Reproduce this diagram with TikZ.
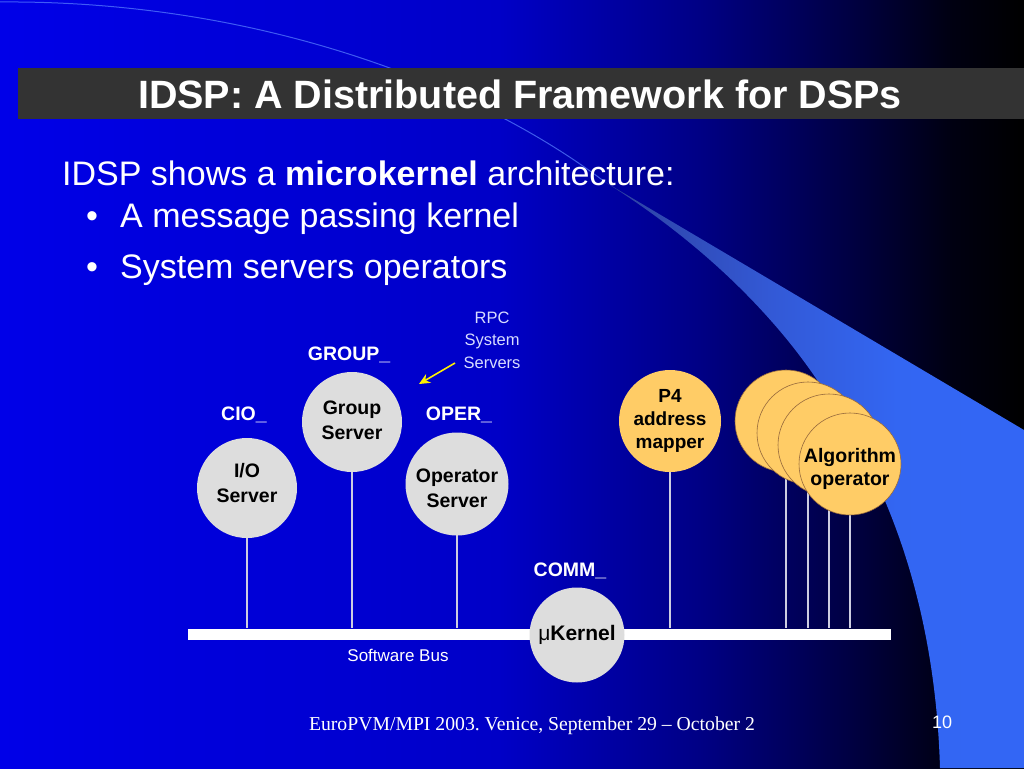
\documentclass[tikz,border=0pt]{standalone}
\usepackage{fontspec}
\setmainfont{Liberation Sans}
\newfontfamily\timesf{Liberation Serif}
\usetikzlibrary{arrows.meta}
\frenchspacing
\definecolor{cgray}{RGB}{221,221,221}
\definecolor{cyel}{RGB}{255,204,102}
\definecolor{cbrown}{RGB}{150,105,60}
\definecolor{cline}{RGB}{205,205,225}
\definecolor{cbar}{RGB}{51,51,51}
\definecolor{crpc}{RGB}{215,220,255}
\definecolor{cfaint}{RGB}{90,130,255}
\pgfdeclarehorizontalshading{slidebg}{100bp}{rgb(0bp)=(0,0,0.91); rgb(25bp)=(0,0,0.91); rgb(49.4bp)=(0,0,0.78); rgb(59.2bp)=(0,0,0.52); rgb(66.5bp)=(0,0,0.26); rgb(71.4bp)=(0,0,0.07); rgb(75bp)=(0,0,0); rgb(100bp)=(0,0,0)}
\pgfdeclarehorizontalshading{wedgesh}{100bp}{rgb(0bp)=(0.18,0.25,0.62); rgb(25bp)=(0.18,0.25,0.62); rgb(45bp)=(0.2,0.35,0.84); rgb(60bp)=(0.2,0.4,0.95); rgb(75bp)=(0.2,0.4,0.96); rgb(100bp)=(0.2,0.4,0.96)}
\begin{document}
\begin{tikzpicture}[x=1pt,y=-1pt,
  lbl/.style={text=white, font=\fontsize{19.5}{23}\selectfont\bfseries, inner sep=0pt, anchor=base},
  graycirc/.style={circle, fill=cgray, minimum size=100pt, inner sep=0pt},
  yelcirc/.style={circle, fill=cyel, minimum size=100pt, inner sep=0pt, align=center, font=\fontsize{19}{23}\selectfont\bfseries},
  stackcirc/.style={circle, fill=cyel, draw=cbrown, line width=0.6pt, minimum size=102pt, inner sep=0pt},
  ctext/.style={align=center, inner sep=0pt, font=\fontsize{19.5}{25}\selectfont\bfseries},
  conn/.style={draw=cline, line width=1.5pt},
  body/.style={text=white, font=\fontsize{34}{40}\selectfont, inner sep=0pt, anchor=base west}
]
\useasboundingbox (0,0) rectangle (1024,768);
% background
\shade[shading=slidebg] (0,0) rectangle (1024,768);
% swoosh
\shade[shading=wedgesh] (605,182) -- (1024,430) -- (1024,768) -- (940,768)
  .. controls (935,600) and (885,480) .. (830,400)
  .. controls (775,310) and (690,235) .. (605,182) -- cycle;
\draw[cfaint, line width=1pt, opacity=0.7] (0,2) .. controls (250,0) and (470,80) .. (605,182);
% title bar
\fill[cbar] (18,68) rectangle (1024,119);
\node[text=white, font=\fontsize{39.5}{44}\selectfont\bfseries, inner sep=0pt, anchor=base] (title) at (520,108) {IDSP: A Distributed Framework for DSPs};
% body text
\node[body] (l1) at (62,185) {IDSP shows a \textbf{microkernel} architecture:};
\node[body] (b1) at (86,227) {•};
\node[body] (l2) at (120,227) {A message passing kernel};
\node[body] (b2) at (86,278) {•};
\node[body] (l3) at (120,278) {System servers operators};
% software bus
\node[fill=white, minimum width=703pt, minimum height=11pt, inner sep=0pt] (bus) at (539.5,634) {};
\node[text=white, font=\fontsize{17}{20}\selectfont, inner sep=0pt] (buslbl) at (398,655) {Software Bus};
% circles positions
\coordinate (cio) at (247,488);
\coordinate (cgrp) at (352,422);
\coordinate (coper) at (457,484);
\coordinate (cp4) at (670,421);
\coordinate (s1) at (786,421);
\coordinate (s2) at (808,433);
\coordinate (s3) at (829,445);
\coordinate (s4) at (850,464);
% connectors (behind circles)
\draw[conn] (cio) -- (cio |- bus.north);
\draw[conn] (cgrp) -- (cgrp |- bus.north);
\draw[conn] (coper) -- (coper |- bus.north);
\draw[conn] (cp4) -- (cp4 |- bus.north);
\draw[conn] (s1) -- (s1 |- bus.north);
\draw[conn] (s2) -- (s2 |- bus.north);
\draw[conn] (s3) -- (s3 |- bus.north);
\draw[conn] (s4) -- (s4 |- bus.north);
% server circles
\node[graycirc] (io) at (cio) {};
\node[ctext] (iot) at (247,483) {I/O\\Server};
\node[graycirc] (grp) at (cgrp) {};
\node[ctext] (grpt) at (352,420) {Group\\Server};
\node[graycirc, minimum size=103pt] (oper) at (coper) {};
\node[ctext] (opert) at (457,488) {Operator\\Server};
\node[graycirc, minimum size=95pt, font=\fontsize{21}{25}\selectfont] (kern) at (577,635) {μ\textbf{Kernel}};
\node[yelcirc, minimum size=102pt] (p4) at (cp4) {P4\\address\\mapper};
\node[stackcirc] (alg1) at (s1) {};
\node[stackcirc] (alg2) at (s2) {};
\node[stackcirc] (alg3) at (s3) {};
\node[stackcirc] (alg4) at (s4) {};
\node[ctext, font=\fontsize{19.5}{23}\selectfont\bfseries] (algt) at (850,469) {Algorithm\\operator};
% labels
\node[lbl] (lcio) at (244,420) {CIO\_};
\node[lbl] (lgrp) at (349,360) {GROUP\_};
\node[lbl] (loper) at (459,420) {OPER\_};
\node[lbl] (lcomm) at (570,576) {COMM\_};
% RPC label and arrow
\node[text=crpc, font=\fontsize{16.5}{22.5}\selectfont, align=center, inner sep=0pt] (rpc) at (492,340) {RPC\\System\\Servers};
\coordinate (ra) at (455,363);
\coordinate (rb) at (419,384);
\draw[yellow, line width=1.6pt, -{Stealth[length=11pt,width=10pt]}] (ra) -- (rb);
% footer
\node[text=white, font=\timesf\fontsize{19.7}{22}\selectfont, inner sep=0pt] (foot) at (532,726) {EuroPVM/MPI 2003. Venice, September 29 – October 2};
\node[text=white, font=\fontsize{18}{20}\selectfont, inner sep=0pt] (pnum) at (942,722) {10};
\end{tikzpicture}
\end{document}
